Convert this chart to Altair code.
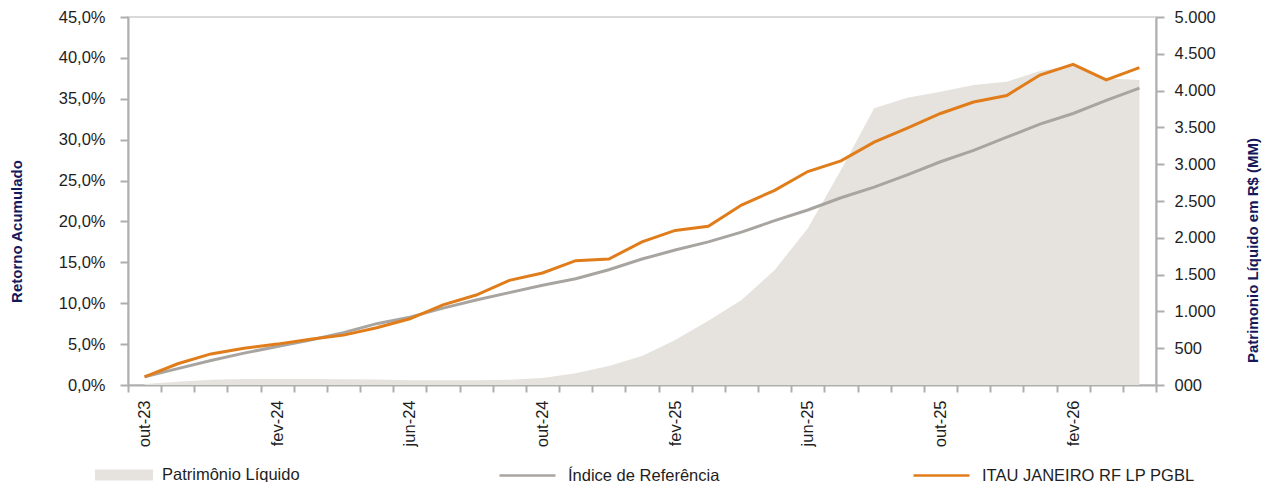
import altair as alt
import pandas as pd

meses = ["out-23", "nov-23", "dez-23", "jan-24", "fev-24", "mar-24", "abr-24", "mai-24",
         "jun-24", "jul-24", "ago-24", "set-24", "out-24", "nov-24", "dez-24", "jan-25",
         "fev-25", "mar-25", "abr-25", "mai-25", "jun-25", "jul-25", "ago-25", "set-25",
         "out-25", "nov-25", "dez-25", "jan-26", "fev-26", "mar-26", "abr-26"]
rotulos_x = ["out-23", "fev-24", "jun-24", "out-24", "fev-25", "jun-25", "out-25", "fev-26"]

retorno_fundo = [1.0, 2.6, 3.8, 4.5, 5.0, 5.6, 6.1, 7.0, 8.1, 9.8, 11.0, 12.8, 13.7, 15.2, 15.4,
                 17.5, 18.9, 19.4, 22.0, 23.8, 26.1, 27.4, 29.7, 31.4, 33.2, 34.6, 35.4, 37.9,
                 39.2, 37.3, 38.8]
retorno_indice = [1.0, 2.0, 3.0, 3.9, 4.7, 5.5, 6.4, 7.5, 8.3, 9.4, 10.4, 11.3, 12.2, 13.0, 14.1,
                  15.4, 16.5, 17.5, 18.7, 20.1, 21.4, 22.9, 24.2, 25.7, 27.3, 28.7, 30.3, 31.9,
                  33.2, 34.8, 36.3]
patrimonio = [15, 45, 70, 80, 82, 82, 78, 74, 65, 65, 66, 72, 95, 160, 258, 394, 611, 874, 1155,
              1562, 2129, 2921, 3759, 3903, 3985, 4076, 4121, 4266, 4340, 4167, 4144]

serie_pl = "Patrimônio Líquido"
serie_indice = "Índice de Referência"
serie_fundo = "ITAU JANEIRO RF LP PGBL"

COR_AREA = "#E6E3DF"
COR_INDICE = "#A8A5A1"
COR_FUNDO = "#E07D1A"
COR_EIXO = "#AEAEAE"
COR_TITULO = "#15185A"
COR_TEXTO = "#1E1E1E"

df_pl = pd.DataFrame({"mes": meses, "pl": patrimonio, "serie": serie_pl})
df_ind = pd.DataFrame({"mes": meses, "ret": [v / 100 for v in retorno_indice], "serie": serie_indice})
df_fun = pd.DataFrame({"mes": meses, "ret": [v / 100 for v in retorno_fundo], "serie": serie_fundo})

lista = "[" + ",".join("'" + r + "'" for r in rotulos_x) + "]"

x_enc = alt.X(
    "mes:O",
    bandPosition=0.5,
    scale=alt.Scale(type="band", domain=meses, paddingInner=0, paddingOuter=0),
    axis=alt.Axis(
        title=None, labelAngle=270, labelAlign="right", labelBaseline="middle",
        labelExpr=f"indexof({lista}, datum.value) >= 0 ? datum.value : ''",
        labelOverlap=False, labelFontSize=16.5, labelColor=COR_TEXTO, labelPadding=8,
        tickBand="extent", tickSize=7, tickWidth=2, tickColor=COR_EIXO,
        domainColor=COR_EIXO, domainWidth=2, grid=False,
    ),
)

area = alt.Chart(df_pl).mark_area(interpolate="linear").encode(
    x=x_enc,
    y=alt.Y(
        "pl:Q",
        scale=alt.Scale(domain=[0, 5000], nice=False, zero=True),
        axis=alt.Axis(
            orient="right", values=list(range(0, 5001, 500)),
            labelExpr="datum.value == 0 ? '000' : replace(format(datum.value, ',d'), ',', '.')",
            labelFontSize=16.5, labelColor=COR_TEXTO, labelPadding=10,
            tickSize=8, tickWidth=2, tickColor=COR_EIXO,
            domainColor=COR_EIXO, domainWidth=2, grid=False,
            title="Patrimonio Líquido em R$ (MM)", titleFontSize=15, titleFontWeight="bold",
            titleColor=COR_TITULO, titleAngle=270, titleAlign="center", titleBaseline="middle",
            titleX=96, titleY=233,
        ),
    ),
    fill=alt.Fill(
        "serie:N",
        scale=alt.Scale(domain=[serie_pl], range=[COR_AREA]),
        legend=alt.Legend(
            title=None, orient="none", legendX=-33, legendY=429,
            symbolType="M-1,-0.19H1V0.19H-1Z", symbolSize=3364, symbolStrokeWidth=0,
            labelFontSize=16.5, labelColor=COR_TEXTO, labelOffset=9, labelLimit=0, padding=0,
        ),
    ),
)

y_ret = alt.Y(
    "ret:Q",
    scale=alt.Scale(domain=[0, 0.45], nice=False, zero=True),
    axis=alt.Axis(
        orient="left", values=[0, 0.05, 0.1, 0.15, 0.2, 0.25, 0.3, 0.35, 0.4, 0.45],
        labelExpr="replace(format(datum.value, '.1%'), '.', ',')",
        labelFontSize=16.5, labelColor=COR_TEXTO, labelPadding=15,
        tickSize=8, tickWidth=2, tickColor=COR_EIXO,
        domainColor=COR_EIXO, domainWidth=2, grid=False,
        title="Retorno Acumulado", titleFontSize=15, titleFontWeight="bold",
        titleColor=COR_TITULO, titleAngle=270, titleAlign="center", titleBaseline="middle",
        titleX=-112, titleY=214,
    ),
)

stroke_enc = alt.Stroke(
    "serie:N",
    scale=alt.Scale(domain=[serie_indice, serie_fundo], range=[COR_INDICE, COR_FUNDO]),
    legend=alt.Legend(
        title=None, orient="none", direction="horizontal", legendX=370, legendY=429,
        symbolType="M-1,0H1", symbolSize=3136, symbolStrokeWidth=2.5,
        labelFontSize=16.5, labelColor=COR_TEXTO, labelOffset=11, labelLimit=0,
        columnPadding=188, padding=0,
    ),
)

linha_ind = alt.Chart(df_ind).mark_line(strokeWidth=3).encode(x=x_enc, y=y_ret, stroke=stroke_enc)
linha_fun = alt.Chart(df_fun).mark_line(strokeWidth=3).encode(x=x_enc, y=y_ret, stroke=stroke_enc)

linhas = alt.layer(linha_ind, linha_fun)

chart = alt.layer(area, linhas).resolve_scale(y="independent").properties(
    width=1028, height=368,
    autosize=alt.AutoSizeParams(type="none"),
    padding={"left": 120, "top": 9, "right": 107, "bottom": 97},
).configure(
    font="Liberation Sans",
).configure_view(
    stroke="#D9D9D9", strokeWidth=2,
)

chart.save("out.html", embed_options={"renderer": "svg", "actions": False})
